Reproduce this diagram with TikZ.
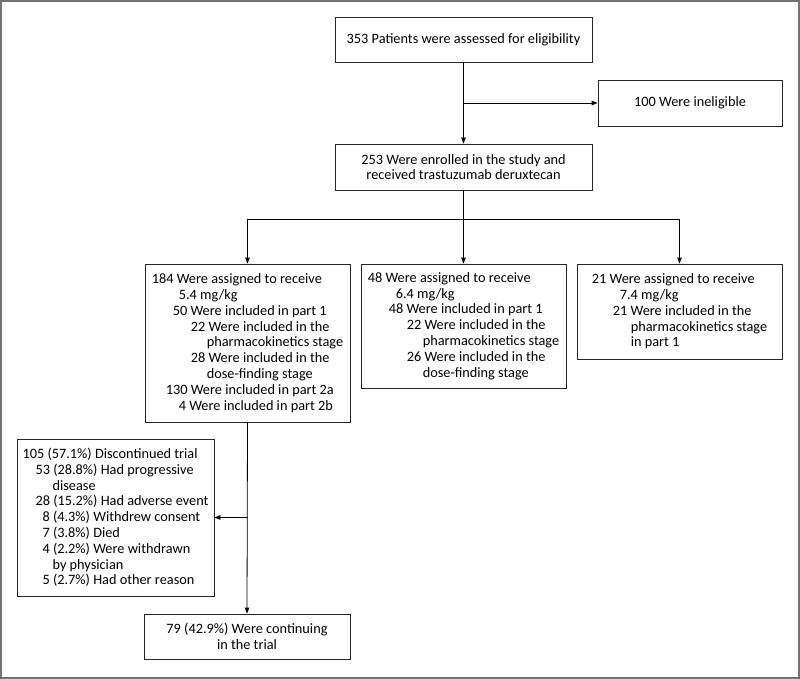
\documentclass[tikz,border=0pt]{standalone}
\usepackage{fontspec}
\setmainfont{Carlito}
\usetikzlibrary{positioning,arrows.meta}

% indent of a line inside a box
\newcommand{\indnt}[1]{\hspace*{#1pt}}

\begin{document}
\begin{tikzpicture}[x=1pt,y=-1pt]
    % Box and connector styles
    \tikzset{
        flowbox/.style={draw=black!85, line width=0.8pt, align=center,
            font=\fontsize{14.3}{15.8}\selectfont, inner sep=3pt},
        listbox/.style={flowbox, align=left},
        flowline/.style={line width=0.8pt},
        flowarrow/.style={flowline, -{Triangle[length=6pt,width=4.5pt]}}
    }

    % Frame
    \useasboundingbox (0,0) rectangle (800,679);
    \draw[black!55, line width=2pt] (1,1) rectangle (799,678);

    % Screening and enrollment
    \node[flowbox, minimum width=257pt, minimum height=45pt] (screen) at (463.5,39.5)
        {353 Patients were assessed for eligibility};
    \node[flowbox, minimum width=184pt, minimum height=46pt] (inelig) at (690,103)
        {100 Were ineligible};
    \node[flowbox, minimum width=257pt, minimum height=46pt] (enrol) at (463.5,167)
        {253 Were enrolled in the study and\\received trastuzumab deruxtecan};

    % Dose groups
    \node[listbox, minimum width=205pt, minimum height=158pt] (dlow) at (247.5,343)
        {184 Were assigned to receive\\
         \indnt{27}5.4 mg/kg\\
         \indnt{21}50 Were included in part 1\\
         \indnt{39}22 Were included in the\\
         \indnt{55}pharmacokinetics stage\\
         \indnt{39}28 Were included in the\\
         \indnt{55}dose-finding stage\\
         \indnt{14}130 Were included in part 2a\\
         \indnt{27}4 Were included in part 2b};
    \node[listbox, minimum width=205pt, minimum height=124pt] (dmid) at (463.5,326)
        {48 Were assigned to receive\\
         \indnt{28}6.4 mg/kg\\
         \indnt{21}48 Were included in part 1\\
         \indnt{39}22 Were included in the\\
         \indnt{55}pharmacokinetics stage\\
         \indnt{39}26 Were included in the\\
         \indnt{55}dose-finding stage};
    \node[listbox, minimum width=205pt, minimum height=95pt] (dhigh) at (679.5,311.5)
        {21 Were assigned to receive\\
         \indnt{28}7.4 mg/kg\\
         \indnt{21}21 Were included in the\\
         \indnt{39}pharmacokinetics stage\\
         \indnt{39}in part 1};

    % Outcome of the 5.4 mg/kg group
    \node[listbox, minimum width=197pt, minimum height=157pt] (disc) at (115.5,517.5)
        {105 (57.1\%) Discontinued trial\\
         \indnt{13}53 (28.8\%) Had progressive\\
         \indnt{30}disease\\
         \indnt{13}28 (15.2\%) Had adverse event\\
         \indnt{20}8 (4.3\%) Withdrew consent\\
         \indnt{20}7 (3.8\%) Died\\
         \indnt{20}4 (2.2\%) Were withdrawn\\
         \indnt{30}by physician\\
         \indnt{20}5 (2.7\%) Had other reason};
    \node[flowbox, minimum width=206pt, minimum height=45pt] (cont) at (247,636.5)
        {79 (42.9\%) Were continuing\\in the trial};

    % Connectors
    \coordinate (split) at (enrol.south |- 0,219);
    \draw[flowarrow] (screen.south) -- (enrol.north);
    \draw[flowarrow] (screen.south |- inelig.west) -- (inelig.west);
    \draw[flowarrow] (enrol.south) -- (dmid.north);
    \draw[flowarrow] (split) -| (dlow.north);
    \draw[flowarrow] (split) -| (dhigh.north);
    \draw[flowarrow] (dlow.south) -- (cont.north);
    \draw[flowarrow] (dlow.south |- disc.east) -- (disc.east);
\end{tikzpicture}
\end{document}
